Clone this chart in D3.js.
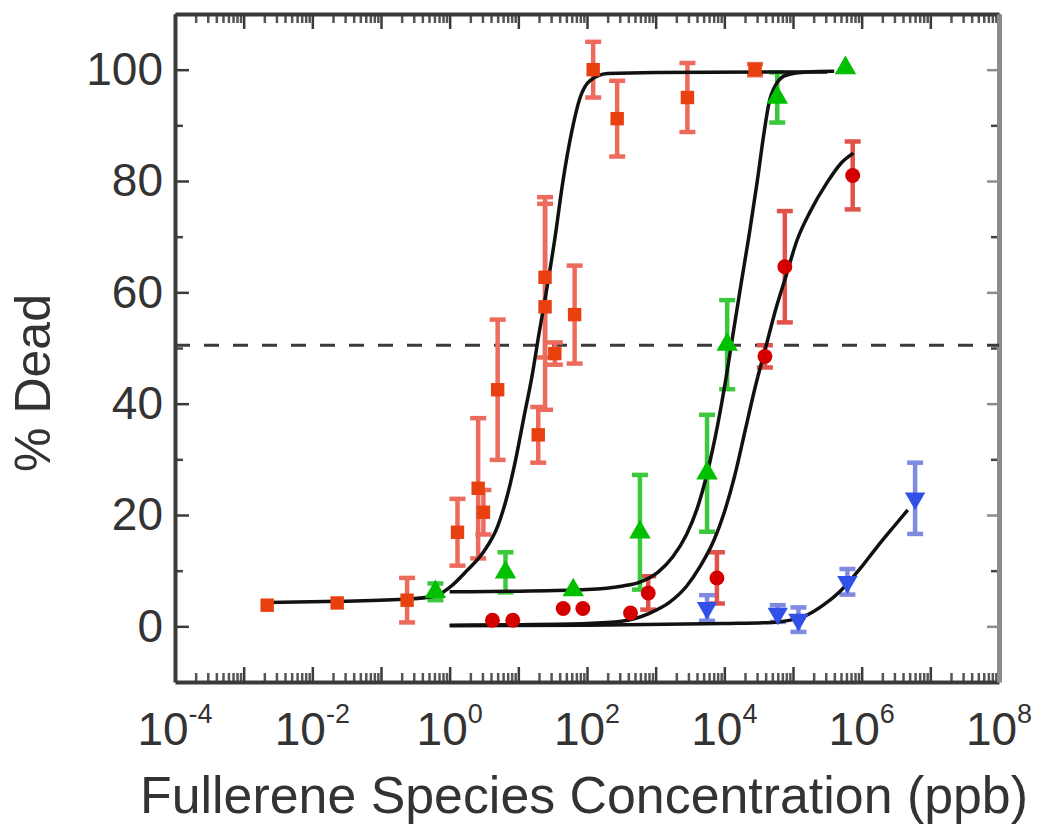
<!DOCTYPE html>
<meta charset="utf-8">
<head>
<style>
  body { margin: 0; background: #fff; }
  svg text { font-family: 'Liberation Sans', Arial, sans-serif; fill: #333; }
</style>
</head>
<body>
<div id="chart"></div>
<script src="https://cdn.jsdelivr.net/npm/d3@7"></script>
<script>

// tick labels
var xTickExps = [-4, -2, 0, 2, 4, 6, 8];
var yTickValues = [0, 20, 40, 60, 80, 100];
var yMinorValues = [10, 30, 50, 70, 90];

// measured points: concentration (ppb), % dead, error
var orangeConc = [2.2e-3, 2.3e-2, 0.24, 1.3, 2.6, 3.1, 5.0, 19.5, 24.5, 24.5, 34, 66, 123, 275, 2900, 2.8e4];
var orangeDead = [3.8, 4.2, 4.7, 16.9, 24.8, 20.5, 42.5, 34.4, 62.7, 57.4, 49, 56, 100, 91.2, 95, 100];
var orangeErr  = [0, 0, 4, 6, 12.6, 4, 12.6, 5, 14.4, 18.5, 2, 8.8, 5, 6.8, 6.2, 1];

var redConc = [4.2, 8.3, 45, 87, 430, 780, 7800, 3.9e4, 7.6e4, 7.4e5];
var redDead = [1.1, 1.1, 3.2, 3.2, 2.4, 6, 8.7, 48.5, 64.6, 81];
var redErr  = [0, 0, 0, 0, 0, 3, 4.6, 2, 10, 6.1];

var greenConc = [0.62, 6.5, 63, 590, 5600, 1.1e4, 5.9e4, 5.8e5];
var greenDead = [6.2, 9.7, 6.5, 16.9, 27.5, 50.6, 95, 100.3];
var greenErr  = [1.5, 3.6, 0, 10.3, 10.5, 8, 4.5, 0];

var blueConc = [5600, 6e4, 1.2e5, 6.2e5, 6e6];
var blueDead = [3.3, 2.3, 1.2, 8, 23];
var blueErr  = [2.3, 1.5, 2.2, 2.3, 6.4];

// fitted curves: log10(concentration), % dead
var orangeFitLog  = [-2.65, -1.6, -0.6, -0.2, 0, 0.25, 0.5, 0.7, 0.85, 0.97, 1.08, 1.2, 1.3, 1.42, 1.53, 1.65, 1.78, 1.9, 2.04, 2.3, 3, 5.5];
var orangeFitDead = [4.3, 4.5, 4.9, 5.5, 7, 10, 13.5, 18, 24, 30.5, 37.5, 45, 52.5, 61, 69.5, 80, 89, 95, 98, 99.3, 99.5, 99.6];

var greenFitLog  = [0, 1, 2, 2.5, 2.78, 3.04, 3.25, 3.45, 3.6, 3.75, 3.9, 4.03, 4.12, 4.25, 4.37, 4.48, 4.57, 4.65, 4.76, 4.9, 5.2, 5.6];
var greenFitDead = [6.2, 6.3, 6.6, 7.2, 8, 9.8, 12.5, 16.5, 21, 27.5, 36, 45, 52, 62, 71, 80, 88, 94, 97.5, 99, 99.6, 99.7];

var redFitLog  = [0, 1, 2, 2.5, 2.9, 3.2, 3.45, 3.65, 3.85, 4.0, 4.15, 4.3, 4.45, 4.6, 4.75, 4.9, 5.06, 5.25, 5.5, 5.7, 5.88];
var redFitDead = [0.2, 0.3, 0.5, 0.9, 2.3, 4.3, 7.2, 10.8, 15.5, 20.5, 27, 35, 43, 50, 57, 63, 69.4, 74.5, 79.8, 83.2, 85];

var blueFitLog  = [0, 2, 4, 4.7, 5.0, 5.2, 5.44, 5.68, 5.98, 6.22, 6.46, 6.67];
var blueFitDead = [0.1, 0.2, 0.5, 0.7, 1.2, 2, 3.8, 6.2, 10.4, 14.2, 17.8, 20.9];

var halfLine = 50.5;

var width = 1037, height = 830;

var svg = d3.select("#chart").append("svg")
  .attr("width", width)
  .attr("height", height);

var x = d3.scaleLog().domain([1e-4, 1e8]).range([175, 999]);
var y = d3.scaleLinear().domain([-10, 110]).range([682, 14]);

var x0 = x.range()[0], x1 = x.range()[1];
var y0 = y.range()[0], y1 = y.range()[1];

var majors = d3.range(-4, 9).map(function(e) { return Math.pow(10, e); });
var minors = [];
d3.range(-4, 8).forEach(function(e) {
  d3.range(2, 10).forEach(function(m) { minors.push(m * Math.pow(10, e)); });
});

function styleAxis(g, col, w) {
  g.attr("color", col);
  g.select(".domain").attr("stroke-width", w);
  g.selectAll(".tick line").attr("stroke-width", 2.5);
}

// minor ticks
svg.append("g").attr("transform", "translate(0," + y0 + ")")
  .call(d3.axisBottom(x).tickValues(minors).tickSizeInner(-9).tickSizeOuter(0).tickFormat(""))
  .call(function(g) { g.select(".domain").remove(); styleAxis(g, "#555", 0); });
svg.append("g").attr("transform", "translate(0," + y1 + ")")
  .call(d3.axisTop(x).tickValues(minors).tickSizeInner(-9).tickSizeOuter(0).tickFormat(""))
  .call(function(g) { g.select(".domain").remove(); styleAxis(g, "#555", 0); });
svg.append("g").attr("transform", "translate(" + x0 + ",0)")
  .call(d3.axisLeft(y).tickValues(yMinorValues).tickSizeInner(-8).tickSizeOuter(0).tickFormat(""))
  .call(function(g) { g.select(".domain").remove(); styleAxis(g, "#444", 0); });
svg.append("g").attr("transform", "translate(" + x1 + ",0)")
  .call(d3.axisRight(y).tickValues(yMinorValues).tickSizeInner(-8).tickSizeOuter(0).tickFormat(""))
  .call(function(g) { g.select(".domain").remove(); styleAxis(g, "#444", 0); });

// major ticks + frame
svg.append("g").attr("transform", "translate(0," + y0 + ")")
  .call(d3.axisBottom(x).tickValues(majors).tickSizeInner(-15).tickSizeOuter(0).tickFormat(""))
  .call(function(g) { styleAxis(g, "#3a3a3a", 4); });
svg.append("g").attr("transform", "translate(0," + y1 + ")")
  .call(d3.axisTop(x).tickValues(majors).tickSizeInner(-15).tickSizeOuter(0).tickFormat(""))
  .call(function(g) { styleAxis(g, "#3a3a3a", 4); });
svg.append("g").attr("transform", "translate(" + x1 + ",0)")
  .call(d3.axisRight(y).tickValues(yTickValues).tickSizeInner(-12).tickSizeOuter(0).tickFormat(""))
  .call(function(g) { styleAxis(g, "#8c8c8c", 5); });
svg.append("g").attr("transform", "translate(" + x0 + ",0)")
  .call(d3.axisLeft(y).tickValues(yTickValues).tickSizeInner(-14).tickSizeOuter(0).tickPadding(12))
  .call(function(g) {
    styleAxis(g, "#3a3a3a", 4);
    g.attr("font-size", 46).attr("font-family", null);
  });

// x tick labels 10^n
var xl = svg.append("g").selectAll("text")
  .data(xTickExps)
  .enter().append("text")
    .attr("x", function(d) { return x(Math.pow(10, d)); })
    .attr("y", 745)
    .attr("text-anchor", "middle")
    .attr("font-size", 46);
xl.append("tspan").text("10");
xl.append("tspan").attr("font-size", 27).attr("dy", -22).text(function(d) { return d; });

// axis titles
svg.append("text")
  .attr("x", 140).attr("y", 813)
  .attr("font-size", 52)
  .attr("textLength", 888)
  .attr("lengthAdjust", "spacingAndGlyphs")
  .text("Fullerene Species Concentration (ppb)");

svg.append("text")
  .attr("transform", "translate(50,383) rotate(-90)")
  .attr("text-anchor", "middle")
  .attr("font-size", 50)
  .text("% Dead");

// 50% dashed line
svg.append("line")
  .attr("x1", x0).attr("x2", x1)
  .attr("y1", y(halfLine)).attr("y2", y(halfLine))
  .attr("stroke", "#3a3a3a")
  .attr("stroke-width", 3)
  .attr("stroke-dasharray", "15,14");

function zip(a, b, c) {
  return a.map(function(v, i) { return {c: v, d: b[i], e: c ? c[i] : 0}; });
}

var series = [
  {pts: zip(orangeConc, orangeDead, orangeErr), fill: "#e8400f", bar: "#ec6b5c", sym: d3.symbolSquare, size: 180, rot: 0},
  {pts: zip(redConc, redDead, redErr), fill: "#d40000", bar: "#e0534a", sym: d3.symbolCircle, size: 175, rot: 0},
  {pts: zip(greenConc, greenDead, greenErr), fill: "#00c000", bar: "#3cc83c", sym: d3.symbolTriangle, size: 200, rot: 0},
  {pts: zip(blueConc, blueDead, blueErr), fill: "#3050e8", bar: "#7f8ae0", sym: d3.symbolTriangle, size: 180, rot: 180}
];

// error bars
series.forEach(function(s) {
  var g = svg.append("g").attr("stroke", s.bar).attr("stroke-width", 4.5);
  var withErr = s.pts.filter(function(p) { return p.e > 0; });
  g.selectAll(".v").data(withErr).enter().append("line")
    .attr("x1", function(p) { return x(p.c); })
    .attr("x2", function(p) { return x(p.c); })
    .attr("y1", function(p) { return y(p.d - p.e); })
    .attr("y2", function(p) { return y(p.d + p.e); });
  [-1, 1].forEach(function(sgn) {
    g.selectAll(".cap" + sgn).data(withErr).enter().append("line")
      .attr("x1", function(p) { return x(p.c) - 8; })
      .attr("x2", function(p) { return x(p.c) + 8; })
      .attr("y1", function(p) { return y(p.d + sgn * p.e); })
      .attr("y2", function(p) { return y(p.d + sgn * p.e); });
  });
});

// fit curves
var line = d3.line()
  .x(function(d) { return x(Math.pow(10, d[0])); })
  .y(function(d) { return y(d[1]); })
  .curve(d3.curveMonotoneX);

[[orangeFitLog, orangeFitDead], [greenFitLog, greenFitDead], [redFitLog, redFitDead], [blueFitLog, blueFitDead]]
  .forEach(function(f) {
    svg.append("path")
      .datum(f[0].map(function(v, i) { return [v, f[1][i]]; }))
      .attr("fill", "none")
      .attr("stroke", "#111")
      .attr("stroke-width", 3.5)
      .attr("d", line);
  });

// markers
series.forEach(function(s) {
  svg.append("g").selectAll("path").data(s.pts).enter().append("path")
    .attr("d", d3.symbol().type(s.sym).size(s.size))
    .attr("transform", function(p) {
      return "translate(" + x(p.c) + "," + y(p.d) + ") rotate(" + s.rot + ")";
    })
    .attr("fill", s.fill);
});

</script>
</body>
